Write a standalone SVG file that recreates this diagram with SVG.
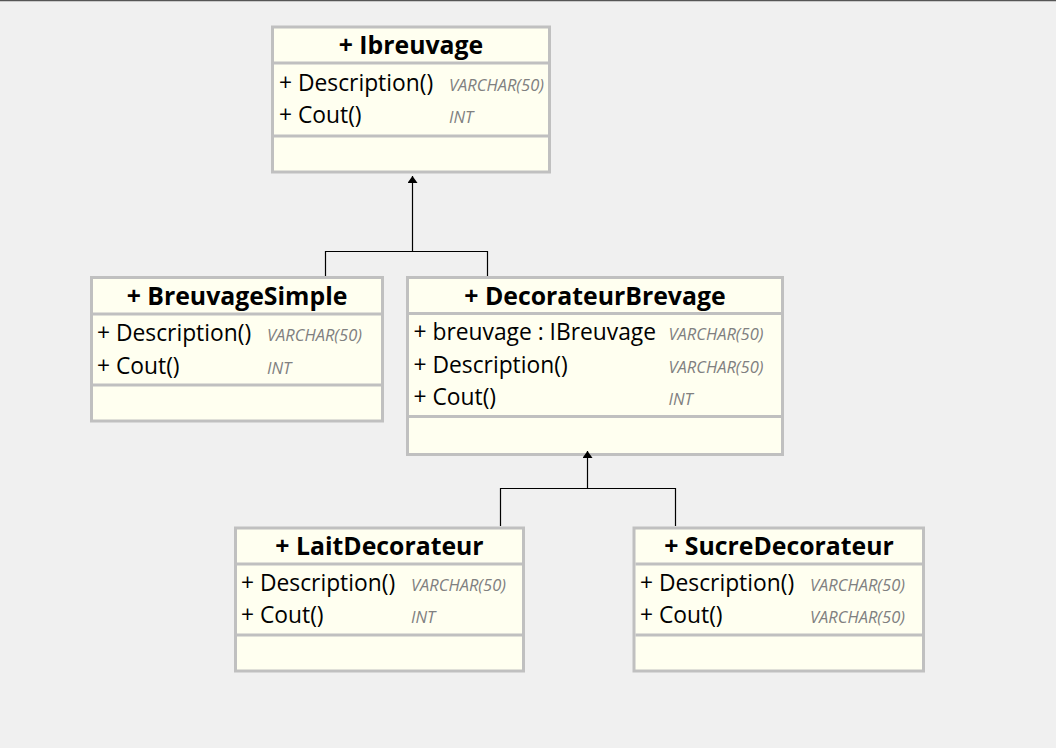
<svg xmlns="http://www.w3.org/2000/svg" width="1056" height="748" viewBox="0 0 1056 748">
<style>
.box{fill:#fffff0;stroke:#c0c0c0;stroke-width:3}
.div{stroke:#c0c0c0;stroke-width:3}
.title{font-family:"Open Sans","Noto Sans",sans-serif;font-weight:bold;font-size:24.8px;fill:#000;text-anchor:middle}
.mem{font-family:"Open Sans","Noto Sans",sans-serif;font-size:22.8px;fill:#000}
.typ{font-family:"Open Sans","Noto Sans",sans-serif;font-style:italic;font-size:16.5px;fill:#808080}
.con{fill:none;stroke:#000;stroke-width:1.2}
</style>
<defs>
<marker id="arr" markerUnits="userSpaceOnUse" markerWidth="7" markerHeight="10" refX="7" refY="5" orient="auto" viewBox="0 0 7 10">
<path d="M0,0 L7,5 L0,10 Z" fill="#000"/>
</marker>
</defs>
<rect x="0" y="0" width="1056" height="748" fill="#f0f0f0"/>
<line x1="0" y1="0.5" x2="1056" y2="0.5" stroke="#555" stroke-width="1.5"/>

<g id="Ibreuvage">
<rect class="box" x="272.5" y="27" width="277" height="145"/>
<line class="div" x1="274" y1="63" x2="548" y2="63"/>
<line class="div" x1="274" y1="136" x2="548" y2="136"/>
<text class="title" x="411" y="54">+ Ibreuvage</text>
<text class="mem" x="279" y="90.5">+ Description()</text>
<text class="typ" x="449" y="90.5">VARCHAR(50)</text>
<text class="mem" x="279" y="123">+ Cout()</text>
<text class="typ" x="449" y="123">INT</text>
</g>

<g id="BreuvageSimple">
<rect class="box" x="91.5" y="277.5" width="291" height="143.5"/>
<line class="div" x1="93" y1="314" x2="381" y2="314"/>
<line class="div" x1="93" y1="385" x2="381" y2="385"/>
<text class="title" x="237" y="304.5">+ BreuvageSimple</text>
<text class="mem" x="97" y="341">+ Description()</text>
<text class="typ" x="267" y="341">VARCHAR(50)</text>
<text class="mem" x="97" y="373.5">+ Cout()</text>
<text class="typ" x="267" y="373.5">INT</text>
</g>

<g id="DecorateurBrevage">
<rect class="box" x="407.5" y="277.5" width="375" height="177"/>
<line class="div" x1="409" y1="313.5" x2="781" y2="313.5"/>
<line class="div" x1="409" y1="416.5" x2="781" y2="416.5"/>
<text class="title" x="595" y="304.5">+ DecorateurBrevage</text>
<text class="mem" x="413.5" y="340">+ breuvage : IBreuvage</text>
<text class="typ" x="668.5" y="340">VARCHAR(50)</text>
<text class="mem" x="413.5" y="372.5">+ Description()</text>
<text class="typ" x="668.5" y="372.5">VARCHAR(50)</text>
<text class="mem" x="413.5" y="405">+ Cout()</text>
<text class="typ" x="668.5" y="405">INT</text>
</g>

<g id="LaitDecorateur">
<rect class="box" x="235.5" y="528" width="288" height="143"/>
<line class="div" x1="237" y1="564" x2="522" y2="564"/>
<line class="div" x1="237" y1="635" x2="522" y2="635"/>
<text class="title" x="379.5" y="555">+ LaitDecorateur</text>
<text class="mem" x="241" y="591">+ Description()</text>
<text class="typ" x="411" y="591">VARCHAR(50)</text>
<text class="mem" x="241" y="623">+ Cout()</text>
<text class="typ" x="411" y="623">INT</text>
</g>

<g id="SucreDecorateur">
<rect class="box" x="634" y="528" width="289.5" height="143"/>
<line class="div" x1="635.5" y1="564" x2="922" y2="564"/>
<line class="div" x1="635.5" y1="635" x2="922" y2="635"/>
<text class="title" x="779" y="555">+ SucreDecorateur</text>
<text class="mem" x="640" y="591">+ Description()</text>
<text class="typ" x="810" y="591">VARCHAR(50)</text>
<text class="mem" x="640" y="623">+ Cout()</text>
<text class="typ" x="810" y="623">VARCHAR(50)</text>
</g>

<g id="connectors">
<path class="con" d="M325.5,276 V251.5 H487.5 V276"/>
<path class="con" d="M412.5,251.5 V176" marker-end="url(#arr)"/>
<path class="con" d="M500.5,526 V488.5 H675.5 V526"/>
<path class="con" d="M587.5,488.5 V451" marker-end="url(#arr)"/>
</g>
</svg>
